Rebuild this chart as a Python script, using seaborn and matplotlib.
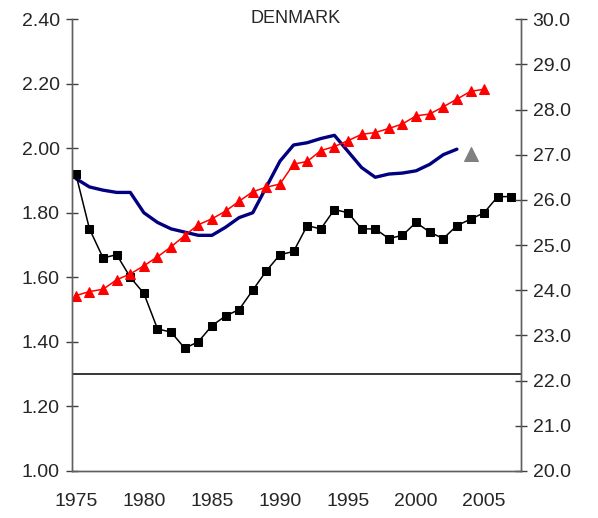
import numpy as np
import pandas as pd
import matplotlib
matplotlib.use("Agg")
import matplotlib.pyplot as plt
import seaborn as sns
from matplotlib.ticker import FormatStrFormatter, FixedLocator

# ─── Données ────────────────────────────────────────────────────────────────
years_tfr = list(range(1975, 2008))
tfr = [1.92, 1.75, 1.66, 1.67, 1.60, 1.55, 1.44, 1.43, 1.38, 1.40,
       1.45, 1.48, 1.50, 1.56, 1.62, 1.67, 1.68, 1.76, 1.75, 1.81,
       1.80, 1.75, 1.75, 1.72, 1.73, 1.77, 1.74, 1.72, 1.76, 1.78,
       1.80, 1.85, 1.85]

years_blue = list(range(1975, 2004))
blue = [1.906, 1.88, 1.87, 1.863, 1.863, 1.80, 1.77, 1.75, 1.74, 1.73,
        1.73, 1.755, 1.785, 1.80, 1.88, 1.96, 2.01, 2.017, 2.03, 2.04,
        1.99, 1.94, 1.91, 1.92, 1.923, 1.93, 1.95, 1.98, 1.997]

years_age = list(range(1975, 2006))
age = [23.88, 23.97, 24.02, 24.23, 24.36, 24.54, 24.74, 24.96, 25.21, 25.45,
       25.58, 25.75, 25.97, 26.18, 26.28, 26.35, 26.79, 26.85, 27.09, 27.18,
       27.31, 27.45, 27.49, 27.58, 27.68, 27.86, 27.90, 28.06, 28.23, 28.40,
       28.45]

grey_year = [2004]
grey_age = [27.01]

ref_level = 1.30
x_labels = [1975, 1980, 1985, 1990, 1995, 2000, 2005]

# ─── Style ──────────────────────────────────────────────────────────────────
sns.set_style("white")
plt.rcParams["font.family"] = ["Liberation Sans", "DejaVu Sans"]

df_tfr = pd.DataFrame({"year": years_tfr, "v": tfr})
df_blue = pd.DataFrame({"year": years_blue, "v": blue})
df_age = pd.DataFrame({"year": years_age, "v": age})
df_grey = pd.DataFrame({"year": grey_year, "v": grey_age})

fig = plt.figure(figsize=(5.98, 5.18), dpi=100)
ax = fig.add_axes([0.120, 0.091, 0.751, 0.872])
ax2 = ax.twinx()

x0, x1 = 1974.7, 2007.7

ax.plot([x0, x1], [ref_level, ref_level], color="black", lw=1.1)
sns.lineplot(data=df_blue, x="year", y="v", ax=ax, color="#000080",
             lw=2.4, legend=False)
sns.lineplot(data=df_tfr, x="year", y="v", ax=ax, color="black", lw=1.1,
             marker="s", markersize=6, markeredgecolor="black",
             legend=False)
sns.lineplot(data=df_age, x="year", y="v", ax=ax2, color="#FF0000", lw=1.1,
             marker="^", markersize=7, markeredgecolor="#FF0000",
             legend=False)
sns.scatterplot(data=df_grey, x="year", y="v", ax=ax2, color="#808080",
                marker="^", s=100, edgecolor="#808080", legend=False)

ax.set_xlim(x0, x1)
ax.set_ylim(1.0, 2.4)
ax2.set_ylim(20.0, 30.0)

ax.set_yticks(np.arange(1.0, 2.41, 0.2))
ax.yaxis.set_major_formatter(FormatStrFormatter("%.2f"))
ax2.set_yticks(np.arange(20, 30.1, 1))
ax2.yaxis.set_major_formatter(FormatStrFormatter("%.1f"))

ax.set_xticks(x_labels)
ax.set_xticklabels([str(y) for y in x_labels])
ax.xaxis.set_minor_locator(FixedLocator(np.arange(x0, x1 + 0.01, 1.0)))
ax.tick_params(axis="x", which="major", length=0, pad=16, labelsize=14)
ax.tick_params(axis="x", which="minor", direction="inout", length=9,
               width=1, color="#404040")
ax.tick_params(axis="y", direction="inout", length=9, width=1,
               color="#404040", labelsize=14, pad=4)
ax2.tick_params(axis="y", direction="inout", length=9, width=1,
                color="#404040", labelsize=14, pad=4)

for a in (ax, ax2):
    a.set_xlabel("")
    a.set_ylabel("")
    a.spines["top"].set_visible(False)
    for s in ("left", "right", "bottom"):
        a.spines[s].set_color("#606060")
        a.spines[s].set_linewidth(1.0)

fig.text(0.495, 0.965, "DENMARK", fontsize=13, ha="center", va="center")

fig.savefig("out.png", dpi=100, facecolor="white")
